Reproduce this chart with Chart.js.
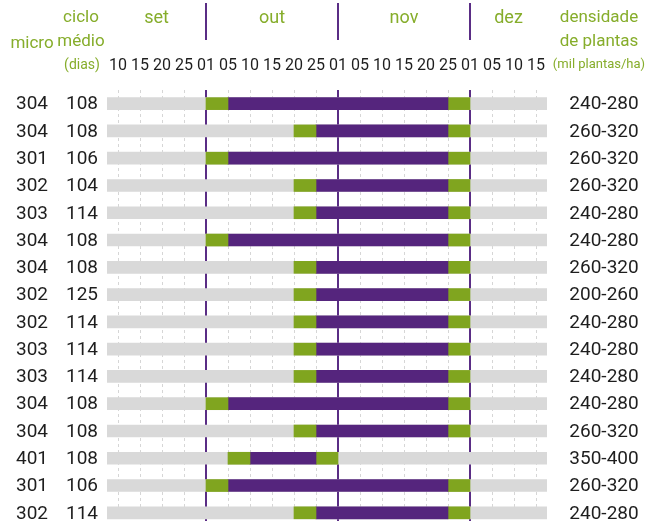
<!DOCTYPE html>
<html lang="pt">
<head>
<meta charset="utf-8">
<title>Calendário de semeadura</title>
<script src="https://cdn.jsdelivr.net/npm/chart.js@4.4.1/dist/chart.umd.min.js"></script>
<style>
  html, body { margin: 0; padding: 0; background: #fff; overflow: hidden; }
  #wrap { width: 647px; height: 521px; position: relative; }
</style>
</head>
<body>
<div id="wrap"><canvas id="chart"></canvas></div>
<script>
const FONT = 'Roboto, "Liberation Sans Narrow", "DejaVu Sans Condensed", sans-serif';
const GREEN_TEXT = "#86ad2b";
const DARK = "#1e1e1e";

// eixo de datas (decêndios aproximados)
const tickLabels = ["10", "15", "20", "25", "01", "05", "10", "15", "20", "25",
                    "01", "05", "10", "15", "20", "25", "01", "05", "10", "15"];
const months = ["set", "out", "nov", "dez"];
const monthStarts = [-0.5, 4, 10, 16, 19.5];

// linhas
const micro = ["304", "304", "301", "302", "303", "304", "304", "302",
               "302", "303", "303", "304", "304", "401", "301", "302"];
const ciclo = [108, 108, 106, 104, 114, 108, 108, 125, 114, 114, 114, 108, 108, 108, 106, 114];
const densidade = ["240-280", "260-320", "260-320", "260-320", "240-280", "240-280", "260-320", "200-260",
                   "240-280", "240-280", "240-280", "240-280", "260-320", "350-400", "260-320", "240-280"];

// janelas de semeadura (índices do eixo de datas)
const inicioTolerado = [[4, 5], [8, 9], [4, 5], [8, 9], [8, 9], [4, 5], [8, 9], [8, 9],
                        [8, 9], [8, 9], [8, 9], [4, 5], [8, 9], [5, 6], [4, 5], [8, 9]];
const recomendado = [[5, 15], [9, 15], [5, 15], [9, 15], [9, 15], [5, 15], [9, 15], [9, 15],
                     [9, 15], [9, 15], [9, 15], [5, 15], [9, 15], [6, 9], [5, 15], [9, 15]];
const finalTolerado = [[15, 16], [15, 16], [15, 16], [15, 16], [15, 16], [15, 16], [15, 16], [15, 16],
                       [15, 16], [15, 16], [15, 16], [15, 16], [15, 16], [9, 10], [15, 16], [15, 16]];
const periodo = [-0.5, 19.5];

function rows(ranges) {
  return ranges.map((r, i) => ({ x: r, y: i }));
}

const sideText = {
  id: "sideText",
  afterDraw(chart) {
    const { ctx, scales: { x, y } } = chart;
    ctx.save();
    ctx.textAlign = "center";
    ctx.textBaseline = "middle";

    // valores por linha
    ctx.fillStyle = DARK;
    ctx.font = `19px ${FONT}`;
    micro.forEach((m, i) => {
      const py = y.getPixelForValue(i) + 1;
      ctx.fillText(m, 32, py);
      ctx.fillText(String(ciclo[i]), 82, py);
      ctx.fillText(densidade[i], 604, py);
    });

    // cabeçalhos
    ctx.fillStyle = GREEN_TEXT;
    ctx.font = `17px ${FONT}`;
    ctx.fillText("micro", 32, 44);
    ctx.fillText("ciclo", 81, 18);
    ctx.fillText("médio", 81, 42);
    ctx.fillText("densidade", 599, 18);
    ctx.fillText("de plantas", 599, 42);
    ctx.font = `14px ${FONT}`;
    ctx.fillText("(dias)", 82, 65);
    ctx.font = `13px ${FONT}`;
    ctx.fillText("(mil plantas/ha)", 599, 65);

    ctx.font = `18px ${FONT}`;
    months.forEach((m, i) => {
      const px = (x.getPixelForValue(monthStarts[i]) + x.getPixelForValue(monthStarts[i + 1])) / 2;
      ctx.fillText(m, px, 18);
    });

    // divisões de mês no cabeçalho
    ctx.strokeStyle = "#5a2d85";
    ctx.lineWidth = 2;
    monthStarts.slice(1, -1).forEach((v) => {
      const px = Math.round(x.getPixelForValue(v));
      ctx.beginPath();
      ctx.moveTo(px, 3);
      ctx.lineTo(px, 40);
      ctx.stroke();
    });
    ctx.restore();
  },
};

const isMonthStart = (v) => monthStarts.includes(v);

new Chart(document.getElementById("chart"), {
  type: "bar",
  data: {
    datasets: [
      { label: "Tolerado", data: rows(inicioTolerado), backgroundColor: "#80a51f" },
      { label: "Recomendado", data: rows(recomendado), backgroundColor: "#55257d" },
      { label: "Tolerado", data: rows(finalTolerado), backgroundColor: "#80a51f" },
      { label: "Período", data: rows(micro.map(() => periodo)), backgroundColor: "#d9d9d9" },
    ],
  },
  options: {
    indexAxis: "y",
    responsive: true,
    maintainAspectRatio: false,
    animation: false,
    layout: { padding: { left: 107, right: 100, top: 0, bottom: 0 } },
    datasets: {
      bar: { grouped: false, barThickness: 12, borderWidth: 0, borderSkipped: false },
    },
    plugins: {
      legend: { display: false },
      tooltip: { enabled: false },
    },
    scales: {
      x: {
        type: "linear",
        position: "top",
        min: -0.5,
        max: 19.5,
        afterBuildTicks: (scale) => {
          scale.ticks = tickLabels.map((_, i) => ({ value: i }));
        },
        afterFit: (scale) => {
          scale.height = 90;
        },
        ticks: {
          padding: 14,
          autoSkip: false,
          maxRotation: 0,
          color: DARK,
          font: { family: FONT, size: 16 },
          callback: (value) => tickLabels[value],
        },
        grid: {
          drawTicks: false,
          color: (ctx) => (ctx.tick && isMonthStart(ctx.tick.value) ? "#5a2d85" : "#d6d6d6"),
          lineWidth: (ctx) => (ctx.tick && isMonthStart(ctx.tick.value) ? 2 : 1),
        },
        border: {
          display: false,
          dash: (ctx) => (ctx.tick && isMonthStart(ctx.tick.value) ? [] : [3, 3]),
        },
      },
      y: {
        type: "linear",
        display: false,
        offset: false,
        reverse: true,
        min: -0.5,
        max: 15.3,
        grid: { offset: false },
      },
    },
  },
  plugins: [sideText],
});
</script>
</body>
</html>
